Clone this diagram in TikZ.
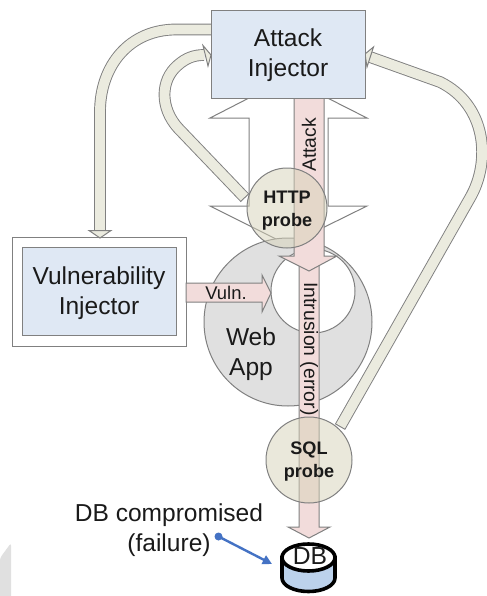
\documentclass[tikz,border=0pt]{standalone}
\usepackage{fontspec}
\setmainfont{Liberation Sans}
\usetikzlibrary{arrows.meta}
\definecolor{boxblue}{HTML}{DFE8F4}
\definecolor{edgegray}{HTML}{808080}
\definecolor{pinkfill}{HTML}{F2DCDB}
\definecolor{beigefill}{HTML}{EBEBDF}
\definecolor{probefill}{HTML}{D7D3B9}
\definecolor{webgray}{HTML}{E0E0E0}
\definecolor{inkdark}{HTML}{1A1A1A}
\definecolor{blueline}{HTML}{4472C4}
\definecolor{dbblue}{HTML}{BCD2EC}
\definecolor{dblight}{HTML}{E2ECF8}
\tikzset{
  x=0.75pt,y=-0.75pt,
  outline/.style={draw=edgegray,line width=0.75pt},
  injector/.style={outline,fill=boxblue,minimum width=115.5pt,minimum height=66pt,inner sep=0pt,align=center,
    text=inkdark,font=\fontsize{18.4}{22.5}\selectfont},
  probe/.style={circle,outline,fill=probefill,fill opacity=.5,text opacity=1,inner sep=0pt,align=center,
    text=inkdark,font=\bfseries\fontsize{13.6}{17}\selectfont},
  block/.style={outline,fill=pinkfill},
  whiteblock/.style={outline,fill=white},
  loopline/.style={draw=edgegray,line width=8.8pt,postaction={draw=beigefill,line width=7.4pt,shorten <=0.8pt}},
  loophead/.style={outline,fill=beigefill,line join=miter},
  arrowtext/.style={inner sep=0pt,text=inkdark,font=\fontsize{14.5}{16}\selectfont},
  plaintext/.style={inner sep=0pt,align=center,text=inkdark,font=\fontsize{18.4}{22.5}\selectfont},
}
\begin{document}
\begin{tikzpicture}
\useasboundingbox (0,0) rectangle (486,596);
\fill[white] (0,0) rectangle (486,596);
\fill[webgray,rounded corners=2pt] (0,558) -- (11,543) -- (11,600) -- (0,600) -- cycle;

% white double arrow
\draw[whiteblock] (288,78) -- (367,118) -- (328,118) -- (328,206) -- (367,206) -- (288,245)
  -- (210,206) -- (249,206) -- (249,118) -- (210,118) -- cycle;

% web application
\node[circle,outline,fill=webgray,minimum size=126pt,inner sep=0pt] (webapp) at (288,322) {};
\node[circle,outline,fill=white,minimum size=63pt,inner sep=0pt] (vulnhole) at (313,291) {};
\node[plaintext] (weblabel) at (251,354) {Web\\App};

% vulnerability injector
\node[outline,fill=white,minimum width=130.5pt,minimum height=81.75pt] (vulnouter) at (99,291.5) {};
\node[injector] (vuln) at (99,291) {\rule{0pt}{16pt}Vulnerability\\Injector};

% pink arrows
\draw[block] (299,262) -- (319,262) -- (319,527) -- (330,527) -- (309,538) -- (288,527) -- (299,527) -- cycle;
\draw[block] (186,283) -- (262,283) -- (262,275) -- (271,293) -- (262,312) -- (262,302) -- (186,302) -- cycle;
\draw[block] (294,96) -- (324,96) -- (324,256) -- (337,256) -- (309,271) -- (279,256) -- (294,256) -- cycle;
\node[arrowtext,font=\fontsize{13.8}{16}\selectfont] (vulntext) at (226,292.5) {Vuln.};
\node[arrowtext,rotate=90] (attacktext) at (309,145) {Attack};
\node[arrowtext,rotate=-90] (intrusiontext) at (309,349) {Intrusion (error)};

% named ends of the feedback connectors
\coordinate (aiTopOut) at (212,29.5);
\coordinate (viIn) at (100,231);
\coordinate (httpOut) at (245,198);
\coordinate (aiMidIn) at (204,55);
\coordinate (sqlOut) at (340,427);
\coordinate (aiRightIn) at (370,57);

\draw[loopline] (aiTopOut) -- (176,29.5) .. controls (130,29.5) and (100,65) .. (100,112) -- (viIn);
\draw[loophead] (89,230.5) -- (111,230.5) -- (100,238) -- cycle;
\draw[loopline] (httpOut) -- (178,128) .. controls (160,108) and (160,80) .. (178,65) .. controls (186,58) and (194,55) .. (aiMidIn);
\draw[loophead] (203,45.5) -- (211,55) -- (208,66) -- cycle;
\draw[loopline] (sqlOut) -- (470,198) .. controls (491,162) and (487,105) .. (440,82) -- (aiRightIn);
\draw[loophead] (373.5,47) -- (365,54) -- (367,67) -- cycle;

% attack injector
\node[injector] (attack) at (288,54) {\rule{0pt}{15pt}Attack\\Injector};

% probes
\node[probe,minimum size=60pt] (http) at (287,208) {\rule{0pt}{13pt}HTTP\\probe};
\node[probe,minimum size=64.5pt] (sql) at (309,460) {\rule{0pt}{12pt}SQL\\probe};

% database
\draw[black,line width=2.7pt,left color=dbblue,middle color=dblight,right color=dbblue]
  (282,557.5) -- (282,578) .. controls (282,585.5) and (293.9,591.5) .. (308.5,591.5)
  .. controls (323.1,591.5) and (335,585.5) .. (335,578) -- (335,557.5) -- cycle;
\draw[black,line width=2.7pt,fill=white] (308.5,557.5) ellipse [x radius=26.5,y radius=13.5];
\node[inner sep=0pt,text=inkdark,font=\fontsize{18.5}{20}\selectfont] (db) at (310,556.5) {DB};

% failure label
\node[plaintext] (failure) at (169,530) {DB compromised\\(failure)};
\coordinate (pointerDot) at (218.5,536.5);
\coordinate (pointerTip) at (272,564);
\fill[blueline] (pointerDot) circle (4);
\draw[blueline,line width=1.8pt,-{Triangle[length=7pt,width=7pt]}] (pointerDot) -- (pointerTip);
\end{tikzpicture}
\end{document}
